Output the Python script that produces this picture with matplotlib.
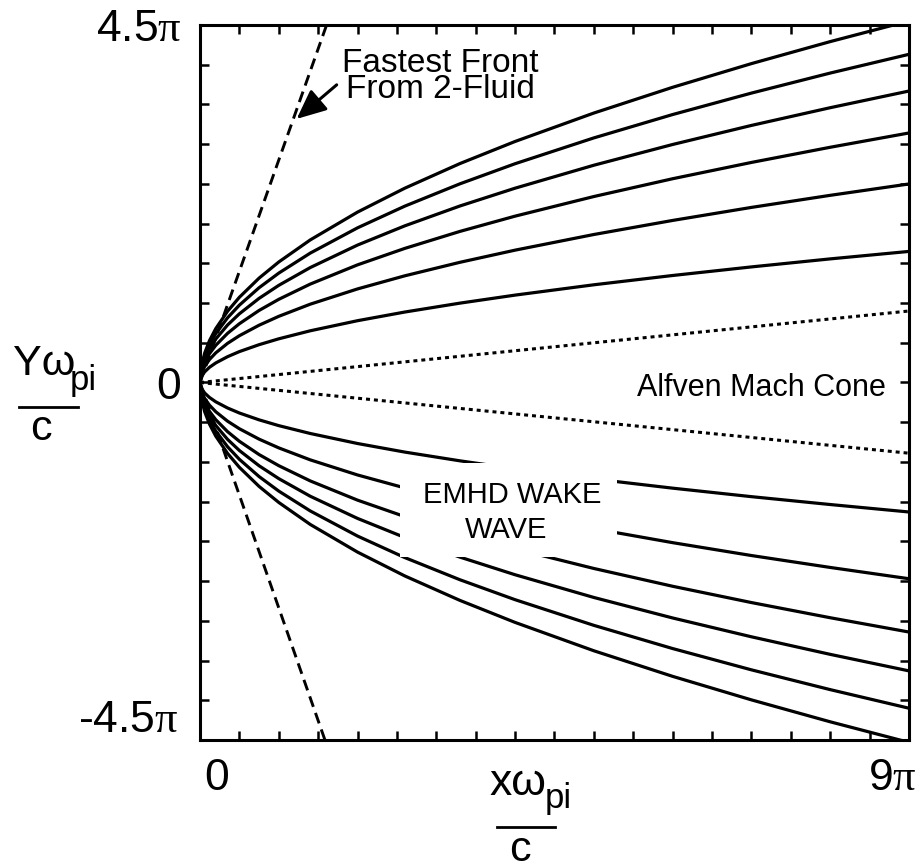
import numpy as np
import matplotlib.pyplot as plt
from matplotlib.patches import Rectangle
from matplotlib.lines import Line2D

plt.rcParams['font.family'] = ['Liberation Sans', 'DejaVu Sans']
plt.rcParams['mathtext.fontset'] = 'custom'
plt.rcParams['mathtext.rm'] = 'Liberation Serif'
plt.rcParams['mathtext.it'] = 'Liberation Serif:italic'

x_read = [0, 0.02, 0.06, 0.12, 0.2, 0.35, 0.5, 0.75, 1, 1.4, 2, 2.6, 3.3, 4, 5, 6, 7, 8, 9]

# wake wave curves above the axis (y in units of pi), outermost first
upper_curves = [
    [0, .215, .372, .526, .678, .897, 1.073, 1.314, 1.517, 1.795, 2.145, 2.446, 2.756, 3.034, 3.392, 3.716, 4.014, 4.291, 4.551],
    [0, .195, .337, .477, .616, .815, .974, 1.193, 1.377, 1.629, 1.947, 2.220, 2.501, 2.754, 3.079, 3.373, 3.643, 3.895, 4.131],
    [0, .173, .300, .424, .547, .724, .865, 1.059, 1.223, 1.447, 1.730, 1.972, 2.222, 2.446, 2.735, 2.996, 3.236, 3.459, 3.669],
    [0, .148, .256, .363, .468, .619, .740, .907, 1.047, 1.239, 1.481, 1.688, 1.902, 2.094, 2.341, 2.565, 2.770, 2.961, 3.141],
    [0, .118, .204, .289, .373, .493, .589, .721, .833, .986, 1.178, 1.343, 1.513, 1.666, 1.863, 2.040, 2.204, 2.356, 2.499],
    [0, .078, .135, .191, .246, .325, .389, .476, .550, .651, .778, .887, .999, 1.100, 1.230, 1.347, 1.455, 1.556, 1.650],
]
# wake wave curves below the axis, outermost first
lower_curves = [
    [0, -.214, -.370, -.523, -.675, -.893, -1.068, -1.308, -1.510, -1.787, -2.135, -2.435, -2.743, -3.020, -3.377, -3.699, -3.995, -4.271, -4.530],
    [0, -.193, -.335, -.474, -.611, -.809, -.967, -1.184, -1.367, -1.617, -1.933, -2.204, -2.483, -2.734, -3.057, -3.349, -3.617, -3.866, -4.100],
    [0, -.171, -.296, -.419, -.541, -.716, -.856, -1.048, -1.210, -1.432, -1.711, -1.951, -2.198, -2.420, -2.706, -2.964, -3.201, -3.422, -3.630],
    [0, -.148, -.256, -.363, -.468, -.619, -.740, -.907, -1.047, -1.239, -1.481, -1.688, -1.902, -2.094, -2.341, -2.565, -2.770, -2.961, -3.141],
    [0, -.116, -.202, -.285, -.368, -.487, -.582, -.713, -.823, -.974, -1.164, -1.327, -1.495, -1.646, -1.840, -2.016, -2.178, -2.328, -2.470],
    [0, -.077, -.133, -.188, -.243, -.321, -.384, -.470, -.543, -.642, -.768, -.876, -.986, -1.086, -1.214, -1.330, -1.437, -1.536, -1.630],
]

# alfven mach cone (dotted) and fastest front (dashed), straight lines from origin
cone_x = [0, 9]
cone_upper = [0, 0.90]
cone_lower = [0, -0.89]
front_upper_x = [0, 1.607]
front_upper_y = [0, 4.5]
front_lower_x = [0, 1.586]
front_lower_y = [0, -4.5]

W, H = 919, 867
fig = plt.figure(figsize=(W / 100, H / 100), dpi=100)
ax = fig.add_axes([200 / W, (H - 740) / H, 709 / W, 715 / H])

def fpos(x, y):
    # pixel position -> figure fraction
    return x / W, 1 - y / H

for ys in upper_curves + lower_curves:
    ax.plot(x_read, ys, color='k', lw=2.3, solid_capstyle='butt',
            solid_joinstyle='round', zorder=2)

ax.plot(cone_x, cone_upper, color='k', lw=2.2, ls=(0, (1.3, 1.3)), zorder=2)
ax.plot(cone_x, cone_lower, color='k', lw=2.2, ls=(0, (1.3, 1.3)), zorder=2)
ax.plot(front_upper_x, front_upper_y, color='k', lw=2.1, ls=(0, (3.8, 2.2)), zorder=2)
ax.plot(front_lower_x, front_lower_y, color='k', lw=2.1, ls=(0, (3.8, 2.2)), zorder=2)

# white patch behind the EMHD label
ax.add_patch(Rectangle((2.545, -2.198), 2.745, 1.18, facecolor='white',
                       edgecolor='none', zorder=3))
ax.text(3.96, -1.52, 'EMHD WAKE', fontsize=21, ha='center', va='baseline', zorder=4)
ax.text(3.88, -1.96, 'WAVE', fontsize=21, ha='center', va='baseline', zorder=4)

ax.text(7.13, -0.17, 'Alfven Mach Cone', fontsize=22, ha='center', va='baseline')
ax.text(3.05, 3.91, 'Fastest Front', fontsize=24, ha='center', va='baseline')
ax.text(3.05, 3.58, 'From 2-Fluid', fontsize=24, ha='center', va='baseline')
ax.annotate('', xy=(1.227, 3.318), xytext=(1.735, 3.747),
            arrowprops=dict(arrowstyle='-|>,head_length=0.6,head_width=0.27',
                            color='k', lw=2.2, shrinkA=0, shrinkB=0,
                            mutation_scale=30))

ax.set_xlim(0, 9)
ax.set_ylim(-4.5, 4.5)
ax.set_xticks(np.arange(0, 9.01, 0.5))
ax.set_yticks(np.arange(-4.5, 4.51, 0.5))
ax.set_xticklabels([])
ax.set_yticklabels([])
ax.tick_params(direction='in', length=6.5, width=1.8, top=True, right=True)
for s in ax.spines.values():
    s.set_linewidth(2.2)

# tick labels
tick_fs = 32
fig.text(*fpos(182, 41), r'4.5$\mathrm{\pi}$', fontsize=tick_fs, ha='right', va='baseline')
fig.text(*fpos(181, 399), '0', fontsize=tick_fs, ha='right', va='baseline')
fig.text(*fpos(178, 732), r'-4.5$\mathrm{\pi}$', fontsize=tick_fs, ha='right', va='baseline')
fig.text(*fpos(217, 790), '0', fontsize=tick_fs, ha='center', va='baseline')
fig.text(*fpos(917, 790), r'9$\mathrm{\pi}$', fontsize=tick_fs, ha='right', va='baseline')

# axis labels drawn as a fraction
fig.text(*fpos(13, 375), 'Y\u03c9', fontsize=31, ha='left', va='baseline')
fig.text(*fpos(70, 390), 'pi', fontsize=25, ha='left', va='baseline')
fig.add_artist(Line2D([19 / W, 78 / W], [1 - 407 / H, 1 - 407 / H], color='k', lw=2,
                      transform=fig.transFigure))
fig.text(*fpos(40.5, 440), 'c', fontsize=31, ha='center', va='baseline')

fig.text(*fpos(490, 795), 'x\u03c9', fontsize=32, ha='left', va='baseline')
fig.text(*fpos(545, 808), 'pi', fontsize=25, ha='left', va='baseline')
fig.add_artist(Line2D([497 / W, 555 / W], [1 - 827 / H, 1 - 827 / H], color='k', lw=2,
                      transform=fig.transFigure))
fig.text(*fpos(519.5, 861), 'c', fontsize=31, ha='center', va='baseline')

fig.savefig('out.png', dpi=100)
